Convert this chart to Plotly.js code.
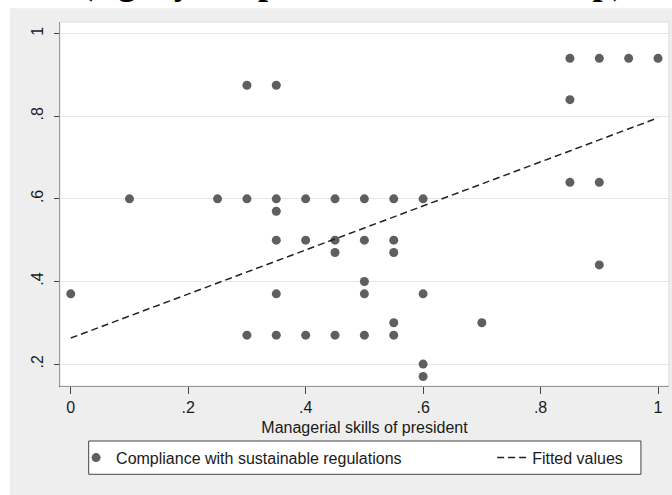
<!DOCTYPE html>
<html>
<head>
<meta charset="utf-8">
<script src="https://cdn.plot.ly/plotly-3.0.1.min.js"></script>
<style>html,body{margin:0;padding:0;background:#fff;}#chart{width:672px;height:495px;}</style>
</head>
<body>
<div id="chart"></div>
<script>
// Managerial skills of president (x) and compliance with sustainable regulations (y)
var skillX = [0, 0.1, 0.25, 0.3, 0.3, 0.3, 0.35, 0.35, 0.35, 0.35, 0.35, 0.35,
  0.4, 0.4, 0.4, 0.45, 0.45, 0.45, 0.45, 0.5, 0.5, 0.5, 0.5, 0.5,
  0.55, 0.55, 0.55, 0.55, 0.55, 0.6, 0.6, 0.6, 0.6, 0.7,
  0.85, 0.85, 0.85, 0.9, 0.9, 0.9, 0.95, 1.0];
var complianceY = [0.37, 0.6, 0.6, 0.875, 0.6, 0.27, 0.875, 0.6, 0.57, 0.5, 0.37, 0.27,
  0.6, 0.5, 0.27, 0.6, 0.5, 0.47, 0.27, 0.6, 0.5, 0.4, 0.37, 0.27,
  0.6, 0.5, 0.47, 0.3, 0.27, 0.6, 0.37, 0.2, 0.17, 0.3,
  0.94, 0.84, 0.64, 0.94, 0.64, 0.44, 0.94, 0.94];
var fitX = [0, 1];
var fitY = [0.263, 0.796];
var xTickVals = [0, 0.2, 0.4, 0.6, 0.8, 1];
var xTickText = ['0', '.2', '.4', '.6', '.8', '1'];
var yTickVals = [0.2, 0.4, 0.6, 0.8, 1];
var yTickText = ['.2', '.4', '.6', '.8', '1'];
var seriesNames = ['Compliance with sustainable regulations', 'Fitted values'];
var xTitle = 'Managerial skills of president';
var clippedTitle = '(e.g. by the president or leadership)';

var txt = '#1a1a1a';
var sans = 'Liberation Sans, Arial, sans-serif';

var traces = [
  {x: skillX, y: complianceY, type: 'scatter', mode: 'markers', name: seriesNames[0],
   marker: {color: '#5f5f5f', size: 9}, legend: 'legend', cliponaxis: false},
  {x: fitX, y: fitY, type: 'scatter', mode: 'lines', name: seriesNames[1],
   line: {color: '#222222', width: 1.5, dash: '7px,4px'}, legend: 'legend2'}
];

var layout = {
  width: 672, height: 495,
  margin: {l: 60, r: 3, t: 22, b: 109},
  paper_bgcolor: '#eeeeee',
  plot_bgcolor: '#ffffff',
  font: {family: sans, size: 16, color: txt},
  title: {text: '<b>' + clippedTitle + '</b>', xref: 'container', yref: 'container',
    x: 0.525, xanchor: 'center', y: 1, yanchor: 'bottom', pad: {t: 0, b: 6, l: 0, r: 0},
    font: {family: 'Liberation Serif, Times New Roman, serif', size: 36, color: '#000'}},
  xaxis: {range: [-0.0183, 1.0187], tickvals: xTickVals, ticktext: xTickText,
    ticks: 'outside', ticklen: 7, tickcolor: '#444', showgrid: false, zeroline: false,
    showline: true, linecolor: '#555', linewidth: 1.2,
    tickfont: {size: 16, color: txt},
    title: {text: xTitle, font: {size: 16, color: txt}, standoff: 6}, automargin: false},
  yaxis: {range: [0.147, 1.028], tickvals: yTickVals, ticktext: yTickText,
    ticks: 'outside', ticklen: 5, tickcolor: '#444', showgrid: true, gridcolor: '#e6e6e6', gridwidth: 1,
    zeroline: false, showline: true, linecolor: '#555', linewidth: 1.2,
    tickangle: -90, tickfont: {size: 16, color: txt}, ticklabelstandoff: 4, automargin: false},
  showlegend: true,
  legend: {orientation: 'h', x: 0.0264, xanchor: 'left', y: -0.197, yanchor: 'middle',
    bgcolor: 'rgba(0,0,0,0)', borderwidth: 0, font: {size: 16, color: txt}},
  legend2: {orientation: 'h', x: 0.7096, xanchor: 'left', y: -0.197, yanchor: 'middle',
    bgcolor: 'rgba(0,0,0,0)', borderwidth: 0, font: {size: 16, color: txt}},
  shapes: [
    {type: 'rect', xref: 'paper', yref: 'paper', x0: -0.2, x1: 1.1, y0: 1.0376, y1: 1.3,
     fillcolor: '#ffffff', line: {width: 0}, layer: 'below'},
    {type: 'rect', xref: 'paper', yref: 'paper', x0: -0.2, x1: -0.0821, y0: -0.4, y1: 1.3,
     fillcolor: '#ffffff', line: {width: 0}, layer: 'below'},
    {type: 'rect', xref: 'paper', yref: 'paper', x0: 0.0471, x1: 0.9539, y0: -0.1511, y1: -0.2426,
     fillcolor: '#ffffff', line: {color: '#444', width: 1}, layer: 'below'},
    {type: 'rect', xref: 'paper', yref: 'paper', x0: 0, x1: 1, y0: 0, y1: 1,
     fillcolor: 'rgba(0,0,0,0)', line: {color: '#dddddd', width: 1}, layer: 'above'}
  ]
};

Plotly.newPlot('chart', traces, layout, {displayModeBar: false, staticPlot: true});
</script>
</body>
</html>
